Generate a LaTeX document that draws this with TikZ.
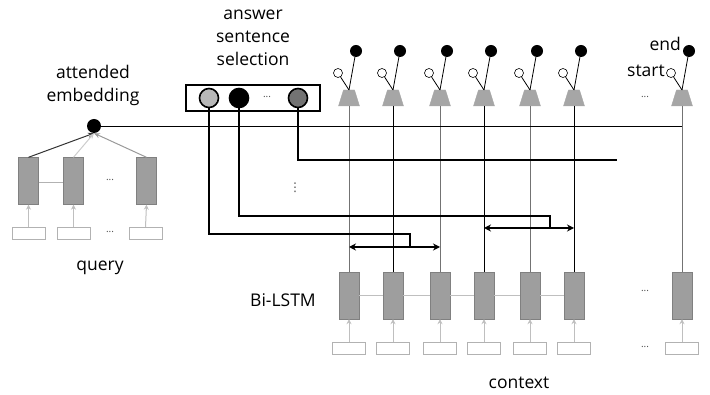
\documentclass[tikz,border=0pt]{standalone}
\usepackage{fontspec}
\setmainfont{Open Sans}
\newfontfamily\dvfont{DejaVu Sans}
\usetikzlibrary{shapes.geometric,arrows.meta}
\begin{document}
\begin{tikzpicture}[x=1pt,y=-1pt,
  lbl/.style={font=\fontsize{17.5}{23}\selectfont, inner sep=0pt, align=center},
  dots/.style={font=\fontsize{10}{10}\selectfont, inner sep=0pt, text=black!70},
  lstm/.style={draw=black!50, fill=black!38, minimum width=20pt, minimum height=47pt, inner sep=0pt},
  inbox/.style={draw=black!30, fill=white, minimum width=33pt, minimum height=12pt, inner sep=0pt},
  trapfill/.style={fill=black!35, draw=black!35},
  enddot/.style={circle, fill=black, minimum size=12pt, inner sep=0pt},
  startc/.style={circle, draw=black, fill=white, minimum size=9pt, inner sep=0pt, line width=0.6pt},
  selc/.style={circle, draw=black, line width=1.6pt, minimum size=19pt, inner sep=0pt},
  inarrow/.style={draw=black!25, line width=1pt, -{Stealth[length=5pt,width=5pt]}},
  thick/.style={line width=2.6pt, line join=miter},
  dbl/.style={line width=2pt, {Stealth[length=7pt,width=7pt]}-{Stealth[length=7pt,width=7pt]}},
]
\useasboundingbox (0,0) rectangle (710,395);

% ---------- query side ----------
\node[lstm] (q1) at (28.5,181) {};
\node[lstm] (q2) at (73.5,181) {};
\node[lstm] (q3) at (146.5,181) {};
\node[inbox] (qi1) at (28.5,233) {};
\node[inbox] (qi2) at (73.5,233) {};
\node[inbox] (qi3) at (145.5,233) {};
\node[dots] (qd1) at (110,180) {...};
\node[dots] (qd2) at (110,232) {...};
\draw[black!30, line width=0.8pt] (q1.east |- 0,182) -- (q2.west |- 0,182);
\foreach \i in {1,2,3} {\draw[inarrow] (qi\i.north) -- (q\i.south);}
\node[circle, fill=black, minimum size=14pt, inner sep=0pt] (att) at (94,126) {};
\draw[black!80, line width=1pt, -{Stealth[length=6pt,width=5pt]}] (q1.north) -- (att.south);
\draw[black!20, line width=1pt, -{Stealth[length=6pt,width=5pt]}] (q2.north) -- (att.south);
\draw[black!40, line width=1pt, -{Stealth[length=6pt,width=5pt]}] (q3.north) -- (att.south);
\node[lbl] (attlbl) at (93,85) {attended\\embedding};
\node[lbl] (querylbl) at (100,268) {query};

% ---------- answer sentence selection ----------
\node[lbl] (anslbl) at (253,38) {answer\\sentence\\selection};
\node[draw=black, line width=2.2pt, minimum width=134pt, minimum height=26pt, inner sep=0pt] (ans) at (253,98) {};
\node[selc, fill=black!28] (c1) at (209,98) {};
\node[selc, fill=black] (c2) at (239,98) {};
\node[selc, fill=black!55] (c3) at (298,98) {};
\node[dots] (cd) at (267,97) {...};
\node[font=\dvfont\fontsize{12}{12}\selectfont, inner sep=0pt, text=black!70] (vd) at (295,188) {⋮};

% ---------- context columns ----------
\foreach \i/\x/\col in {1/349/black!55,2/393/black,3/440/black!55,4/484/black,5/530/black!55,6/574/black,7/682/black!55} {
  \fill[trapfill] (\x-5.5,90) -- (\x+5.5,90) -- (\x+10.5,106) -- (\x-10.5,106) -- cycle;
  \coordinate (t\i) at (\x,90);
  \coordinate (b\i) at (\x,106);
  \node[enddot] (e\i) at (\x+7,51) {};
  \node[startc] (s\i) at (\x-11,73) {};
  \node[lstm] (l\i) at (\x,295.5) {};
  \node[inbox] (in\i) at (\x,348) {};
  \draw[black, line width=0.8pt] (t\i) -- (e\i);
  \draw[black, line width=0.8pt] (t\i) -- (s\i);
  \draw[\col, line width=1pt] (b\i) -- (l\i.north);
  \draw[inarrow] (in\i.north) -- (l\i.south);
}
\foreach \i/\j in {1/2,2/3,3/4,4/5,5/6} {\draw[black!25, line width=0.8pt] (l\i.east) -- (l\j.west);}
\node[dots] (cd1) at (645,97) {...};
\node[dots] (cd2) at (645,291) {...};
\node[dots] (cd3) at (645,347) {...};
\node[lbl, anchor=east] (endlbl) at (681,44) {end};
\node[lbl, anchor=east] (startlbl) at (665,71) {start};
\node[lbl] (bilbl) at (283,300) {Bi-LSTM};
\node[lbl] (ctxlbl) at (519,383) {context};

% attended embedding line
\draw[black, line width=0.9pt] (att.east) -- (att -| b7);

% ---------- selection connectors ----------
\coordinate (k3) at (617,160);
\draw[thick] (c3.south) |- (k3);
\coordinate (k2) at (550,228);
\draw[thick] (c2.south) |- (550,216) -- (k2);
\coordinate (k1) at (410,247);
\draw[thick] (c1.south) |- (410,234) -- (k1);
\draw[dbl] (l1.north |- k1) -- (l3.north |- k1);
\draw[dbl] (l4.north |- k2) -- (l6.north |- k2);
\end{tikzpicture}
\end{document}
